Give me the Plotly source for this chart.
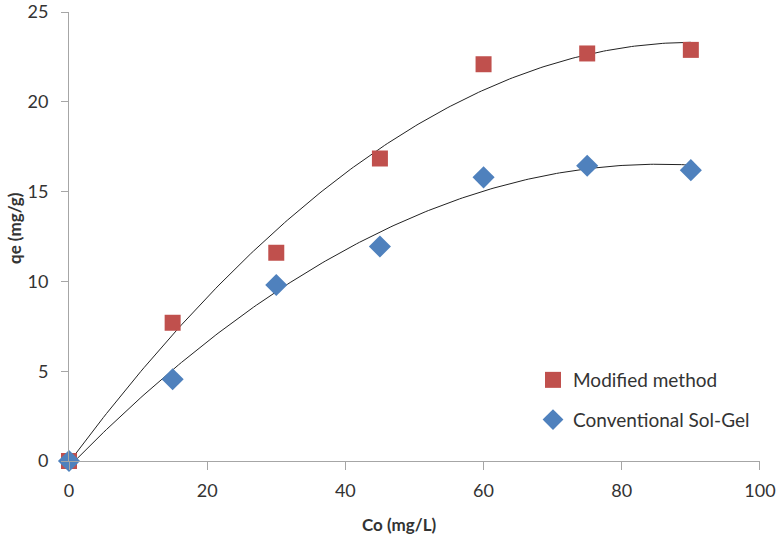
import numpy as np
import plotly.graph_objects as go

co = [0, 15, 30, 45, 60, 75, 90]
modified = [0, 7.7, 11.6, 16.85, 22.1, 22.7, 22.9]
conventional = [0, 4.55, 9.8, 11.95, 15.8, 16.45, 16.2]
x_ticks = [0, 20, 40, 60, 80, 100]
y_ticks = [0, 5, 10, 15, 20, 25]

RED = "#C0504D"
BLUE = "#4F81BD"
FONT = "Lato"
TXT = "#333333"

fig = go.Figure()

xs = np.linspace(min(co), max(co), 200)
for ys in (modified, conventional):
    c = np.polyfit(co, ys, 2)
    fig.add_trace(go.Scatter(x=xs, y=np.polyval(c, xs), mode="lines",
                             line=dict(color="#222222", width=1), showlegend=False,
                             hoverinfo="skip", cliponaxis=False))

fig.add_trace(go.Scatter(x=co, y=modified, mode="markers", name="Modified method",
                         legendgroup="a", cliponaxis=False,
                         marker=dict(symbol="square", size=16, color=RED)))
fig.add_trace(go.Scatter(x=co, y=conventional, mode="markers", name="Conventional Sol-Gel",
                         legendgroup="b", cliponaxis=False,
                         marker=dict(symbol="diamond", size=17, color=BLUE)))

axis_common = dict(showgrid=False, zeroline=False, showline=True, linecolor="#A6A6A6",
                   linewidth=1, ticks="outside", tickcolor="#A6A6A6",
                   automargin=False, ticklabeloverflow="allow",
                   tickfont=dict(family=FONT, size=18, color=TXT))

fig.update_layout(
    width=777, height=536,
    margin=dict(l=69, r=17, t=12, b=75),
    plot_bgcolor="white", paper_bgcolor="white",
    xaxis=dict(range=[0, 100.01], tickvals=x_ticks, ticklen=8, ticklabelstandoff=5,
               **axis_common),
    yaxis=dict(range=[0, 25.01], tickvals=y_ticks, ticklen=7, ticklabelstandoff=9,
               **axis_common),
    legend=dict(x=0.6715, y=0.2227, xanchor="left", yanchor="top", tracegroupgap=12,
                font=dict(family=FONT, size=19, color=TXT), bgcolor="rgba(0,0,0,0)",
                itemwidth=30),
    showlegend=True,
    annotations=[
        dict(text="<b>Co (mg/L)</b>", xref="paper", yref="paper", x=0.479, y=-0.1425,
             xanchor="center", yanchor="middle", showarrow=False,
             font=dict(family=FONT, size=17, color=TXT)),
        dict(text="<b>qe (mg/g)</b>", xref="paper", yref="paper", x=-0.0796, y=0.5189,
             xanchor="center", yanchor="middle", showarrow=False, textangle=-90,
             font=dict(family=FONT, size=17, color=TXT)),
    ],
)

fig.write_html("out.html", config={"displayModeBar": False},
               post_script="document.body.style.margin='0px';")
